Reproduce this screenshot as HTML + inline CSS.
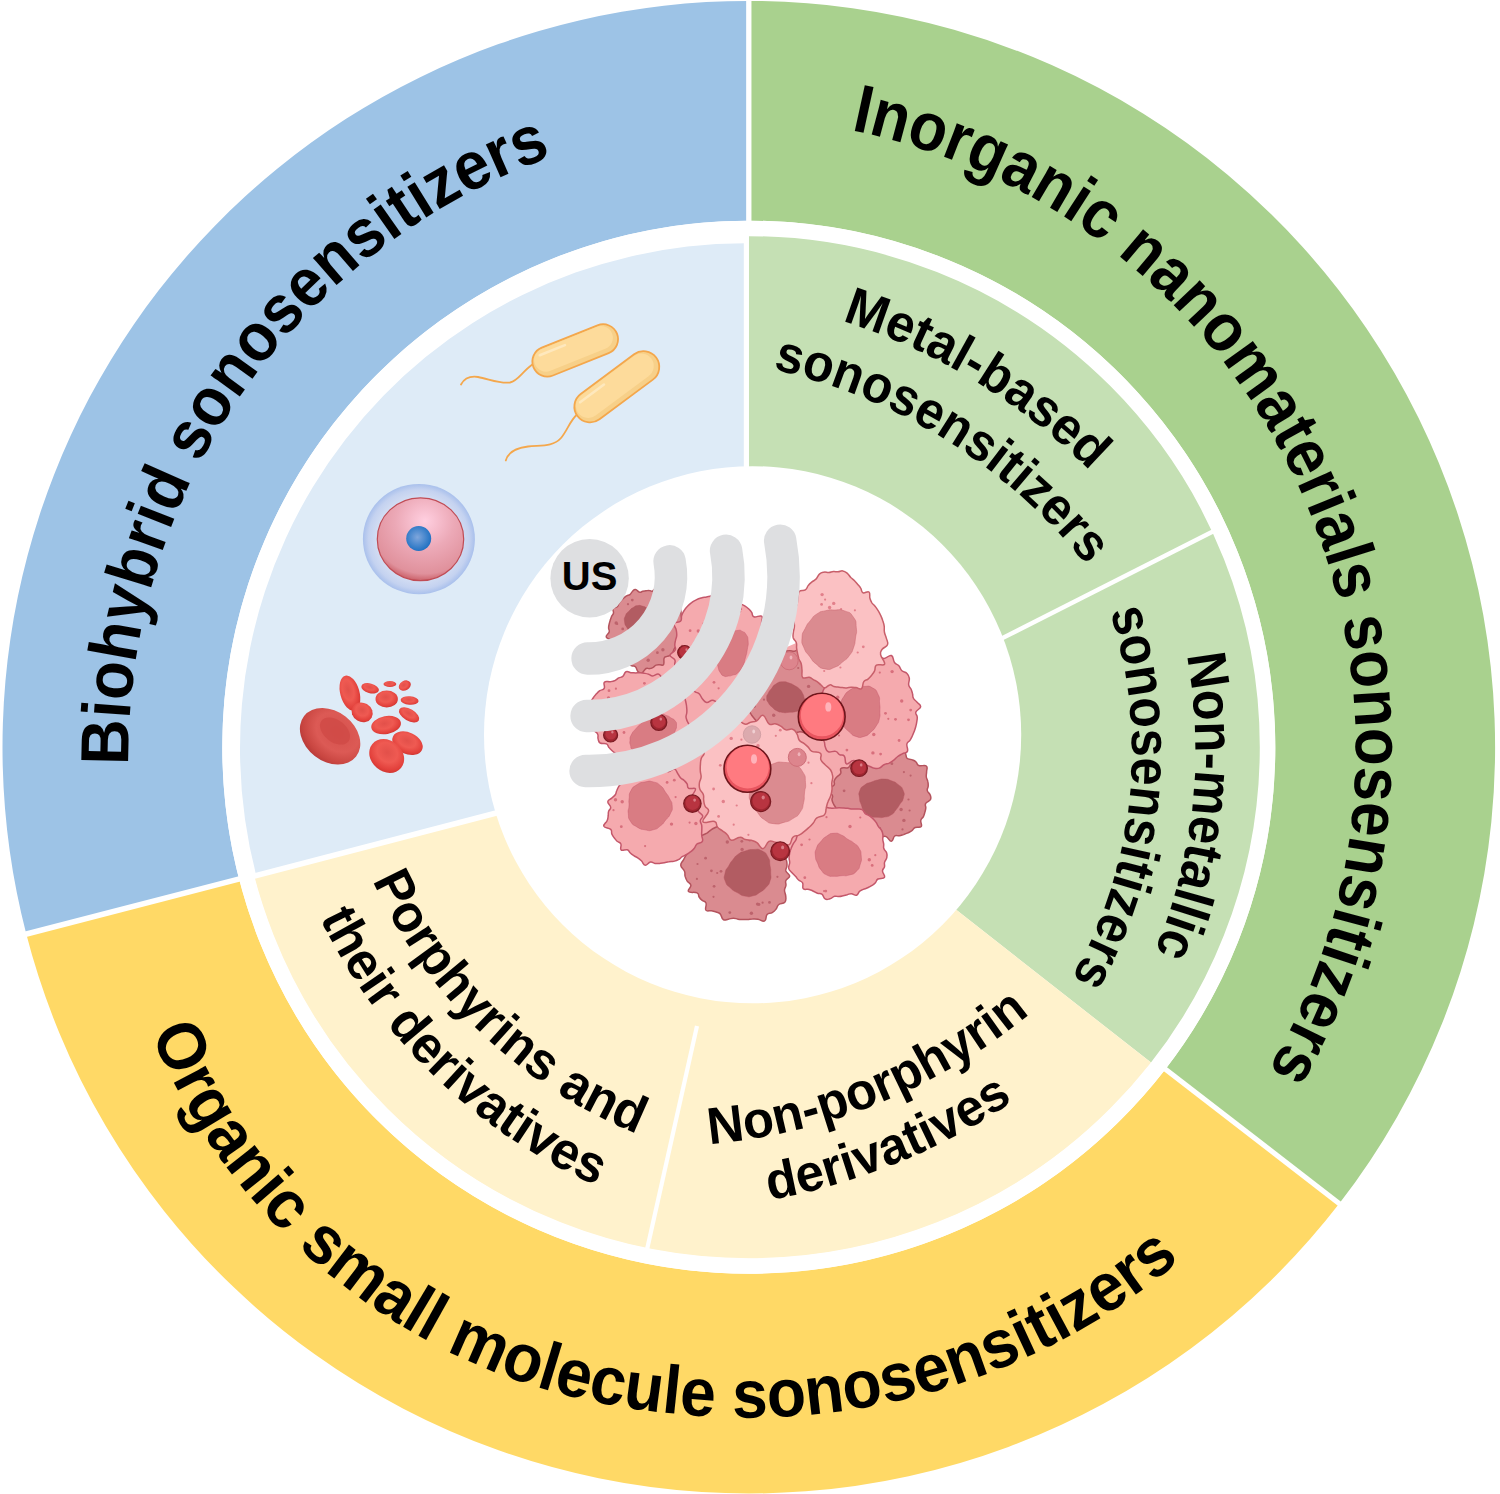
<!DOCTYPE html>
<html><head><meta charset="utf-8"><title>Sonosensitizers</title><style>html,body{margin:0;padding:0;background:#fff}svg{display:block}text{font-family:"Liberation Sans",sans-serif;font-weight:bold}</style></head><body>
<svg width="1500" height="1494" viewBox="0 0 1500 1494">
<rect width="1500" height="1494" fill="#fff"/>
<path d="M26.27 934.06A746.3 746.3 0 0 1 748.8 0.9L748.8 220.7A526.5 526.5 0 0 0 239.07 879.03Z" fill="#9dc3e6"/>
<path d="M748.8 0.9A746.3 746.3 0 0 1 1339.29 1203.58L1165.38 1069.17A526.5 526.5 0 0 0 748.8 220.7Z" fill="#a9d18e"/>
<path d="M1339.29 1203.58A746.3 746.3 0 0 1 26.27 934.06L239.07 879.03A526.5 526.5 0 0 0 1165.38 1069.17Z" fill="#ffd966"/>
<path d="M256.31 875.6A505 505 0 0 1 745 243.3L745 548.3A200 200 0 0 0 551.46 798.71Z" fill="#deebf7"/>
<path d="M748.8 235.2A512 512 0 0 1 1151.71 1063.12L906.19 870.61A200 200 0 0 0 748.8 547.2Z" fill="#c5e0b4"/>
<path d="M1151.32 1062.81A511.5 511.5 0 0 1 253.82 876.13L555.26 797.61A200 200 0 0 0 906.19 870.61Z" fill="#fff2cc"/>
<line x1="748.8" y1="232.2" x2="748.8" y2="-12.8" stroke="#fff" stroke-width="5.3" />
<line x1="1158.65" y1="1063.97" x2="1350.13" y2="1211.96" stroke="#fff" stroke-width="5.2" />
<line x1="247.3" y1="876.9" x2="13.01" y2="937.49" stroke="#fff" stroke-width="5.6" />
<circle cx="748.8" cy="747.2" r="518.75" fill="none" stroke="#fff" stroke-width="15.5"/>
<line x1="746.35" y1="230" x2="746.35" y2="480" stroke="#fff" stroke-width="5.1" />
<line x1="506.87" y1="810.22" x2="246.56" y2="878.02" stroke="#fff" stroke-width="5.6" />
<line x1="996.4" y1="641.1" x2="1220.3" y2="527.7" stroke="#fff" stroke-width="4.4" />
<line x1="697" y1="1026" x2="646" y2="1254" stroke="#fff" stroke-width="4.2" />
<circle cx="752.6" cy="734.75" r="268.6" fill="#fff"/>
<path d="M532 364.8C522 372 518 381 510 382.5C500 384 489 379 478 377C470 375.8 464 379 461 384.5" fill="none" stroke="#f4a74c" stroke-width="1.8" stroke-linecap="round"/><path d="M576.5 415C570 421 567 431 561 438C553 447 540 445 528 446.5C516 448 508 452 505.8 460.5" fill="none" stroke="#f4a74c" stroke-width="1.8" stroke-linecap="round"/><g transform="translate(575.2 350.4) rotate(-21.8)"><rect x="-45.0" y="-15.0" width="90" height="30" rx="15.0" ry="15.0" fill="#f7d089" stroke="#f4a74c" stroke-width="1.8"/><rect x="-42.5" y="-13.8" width="83" height="23.5" rx="12.0" ry="12.0" fill="#fddb9b"/><rect x="-36.0" y="-10.0" width="29.700000000000003" height="2.6" rx="1.3" fill="#fee8bd"/></g><g transform="translate(616.8 386.8) rotate(-36.6)"><rect x="-49.0" y="-15.75" width="98" height="31.5" rx="15.75" ry="15.75" fill="#f7d089" stroke="#f4a74c" stroke-width="1.8"/><rect x="-46.5" y="-14.55" width="91" height="25.0" rx="12.75" ry="12.75" fill="#fddb9b"/><rect x="-40.0" y="-10.75" width="32.34" height="2.6" rx="1.3" fill="#fee8bd"/></g><defs><radialGradient id="gh" cx="50%" cy="50%" r="50%"><stop offset="0.72" stop-color="#d5dff3"/><stop offset="0.9" stop-color="#c4d2f0"/><stop offset="1" stop-color="#a9c0ec"/></radialGradient><radialGradient id="gp" cx="55%" cy="28%" r="75%"><stop offset="0" stop-color="#ffcfe0"/><stop offset="0.45" stop-color="#eca9b7"/><stop offset="0.85" stop-color="#e0919c"/><stop offset="1" stop-color="#c5545c"/></radialGradient><radialGradient id="gn" cx="45%" cy="45%" r="55%"><stop offset="0" stop-color="#7fa6dc"/><stop offset="1" stop-color="#2272c3"/></radialGradient></defs><ellipse cx="418.9" cy="539.1" rx="56" ry="55.2" fill="url(#gh)"/><ellipse cx="420.5" cy="539.2" rx="43.2" ry="41.4" fill="url(#gp)" stroke="#c04c55" stroke-width="1.2"/><circle cx="418.7" cy="538.5" r="12.5" fill="url(#gn)"/><defs><radialGradient id="gr" cx="45%" cy="40%" r="65%"><stop offset="0" stop-color="#e2504a"/><stop offset="0.45" stop-color="#ef5a52"/><stop offset="0.8" stop-color="#e2403b"/><stop offset="1" stop-color="#c9332f"/></radialGradient><radialGradient id="gR" cx="55%" cy="35%" r="70%"><stop offset="0" stop-color="#d4504c"/><stop offset="0.5" stop-color="#dc5a55"/><stop offset="0.8" stop-color="#c94641"/><stop offset="1" stop-color="#b23636"/></radialGradient></defs><ellipse cx="349.9" cy="693.1" rx="9.6" ry="18" transform="rotate(-15 349.9 693.1)" fill="url(#gr)"/><ellipse cx="362.1" cy="712.3" rx="11" ry="9.5" transform="rotate(30 362.1 712.3)" fill="url(#gr)"/><ellipse cx="370.1" cy="688.3" rx="9" ry="4.8" transform="rotate(15 370.1 688.3)" fill="url(#gr)"/><ellipse cx="386.7" cy="698.9" rx="11.2" ry="8.5" transform="rotate(0 386.7 698.9)" fill="url(#gr)"/><ellipse cx="389.9" cy="684" rx="6.4" ry="3" transform="rotate(0 389.9 684)" fill="url(#gr)"/><ellipse cx="404.8" cy="685.6" rx="6.4" ry="4.8" transform="rotate(-30 404.8 685.6)" fill="url(#gr)"/><ellipse cx="409.6" cy="700.5" rx="9" ry="4.3" transform="rotate(5 409.6 700.5)" fill="url(#gr)"/><ellipse cx="409.1" cy="714.9" rx="11.2" ry="5.9" transform="rotate(30 409.1 714.9)" fill="url(#gr)"/><ellipse cx="386.1" cy="725.1" rx="15" ry="9" transform="rotate(-10 386.1 725.1)" fill="url(#gr)"/><ellipse cx="407.5" cy="743.2" rx="16" ry="10.7" transform="rotate(25 407.5 743.2)" fill="url(#gr)"/><ellipse cx="386.7" cy="756" rx="18.7" ry="15.5" transform="rotate(40 386.7 756)" fill="url(#gr)"/><ellipse cx="330.1" cy="736.3" rx="33" ry="25" transform="rotate(38 330.1 736.3)" fill="url(#gR)"/><ellipse cx="335" cy="731" rx="17" ry="11" transform="rotate(38 335 731)" fill="#cf4a46" opacity="0.8"/><g><path d="M646 628L722 640L780 650L838 625L878 712L888 795L842 858L800 850L740 878L700 832L655 820L636 717Z" fill="#f5aaae"/><path d="M680.9 628C680.1 629.9 681.3 630.1 681.2 631.9C681.1 633.6 680.9 633.9 680.6 635.6C680.2 637.4 680.1 637.6 679.5 639.3C679 641 678.9 641.2 678.1 642.8C677.4 644.4 677.3 644.6 676.4 646.1C675.5 647.5 675 647.4 674.2 648.9C673.3 650.4 673.7 651 672.8 652.5C672 653.9 671.8 654.3 670.5 655.2C669.1 656.1 668.5 655.7 667 656.4C665.5 657.1 664.9 656.3 664.1 658.2C663.3 660.1 664.6 663 663.6 664.5C662.5 666 661.4 664.6 659.7 664.7C657.9 664.8 657.7 664.5 656.1 665.1C654.6 665.7 654.6 666.6 653.1 667.4C651.5 668.2 651.2 668.4 649.6 668.6C648 668.9 647.8 667.5 646 668.5C644.2 669.5 643.8 672.2 642 672.9C640.2 673.7 639.7 673.2 638.2 671.8C636.6 670.3 636.9 668.2 635.4 666.8C633.9 665.4 633.4 666.6 631.9 665.8C630.4 665.1 630.2 664.8 628.8 663.7C627.4 662.6 627.3 662.4 626 661.3C624.7 660.1 624.6 659.9 623.3 658.7C622.1 657.5 621.8 657.4 620.8 656.1C619.7 654.7 620.4 653.8 618.7 652.9C617 652 614.5 653.6 613.5 652.1C612.5 650.7 614.8 648.7 614.4 646.8C613.9 644.9 612.5 645.4 611.6 643.8C610.7 642.3 611.7 641.6 610.5 640C609.2 638.3 606.4 638.7 606.2 636.8C605.9 634.9 608.7 634.1 609.2 632C609.8 630 608.6 629.9 608.6 628C608.6 626.1 608.8 625.8 609.2 624C609.6 622.1 609.7 621.9 610.3 620.1C610.8 618.3 610.9 618.1 611.6 616.4C612.4 614.8 613.1 614.9 613.5 613C613.8 611.2 612.3 610 613.2 608.5C614.1 607 616 607.9 617.3 606.7C618.7 605.5 618 604.7 618.9 603.3C619.8 601.8 620.1 601.7 621.2 600.5C622.4 599.2 622.5 599 623.8 597.9C625.1 596.9 625.2 596.6 626.6 595.8C628.1 595 628.6 595.6 629.9 594.6C631.3 593.6 631.1 592.6 632.4 591.5C633.7 590.3 633.8 589.4 635.5 589.6C637.2 589.8 637.9 591.9 639.6 592.2C641.3 592.6 641.2 591.5 642.7 591.2C644.2 590.9 644.5 591 646 590.8C647.5 590.6 647.8 590.4 649.3 590.5C650.9 590.5 650.8 591.7 652.6 591C654.4 590.2 655.3 587.6 657.1 587.2C658.9 586.8 658.9 588.4 660.4 589.3C661.9 590.3 662 590.6 663.7 591.2C665.3 591.9 665.8 591.5 667.5 592.2C669.2 592.9 669.5 593.1 671 594.1C672.5 595.2 672.9 595.3 674.1 596.8C675.3 598.2 674.7 599.1 676.3 600.4C677.8 601.7 679.7 600.6 680.7 602.2C681.7 603.9 680.3 605.3 680.4 607.6C680.4 609.8 680.7 609.9 681 611.9C681.2 613.9 680.9 614.3 681.3 616.1C681.6 618 681.8 618.1 682.6 619.9C683.4 621.7 685 621.9 684.6 623.8C684.2 625.7 681.7 626.1 680.9 628Z" fill="#da8b90" stroke="#b4535d" stroke-width="1.5" stroke-linejoin="round"/><circle cx="657.4" cy="652.7" r="1.4" fill="#bd636c"/><circle cx="648.2" cy="660.3" r="1.7" fill="#bd636c"/><circle cx="622.7" cy="628.9" r="1.4" fill="#bd636c"/><circle cx="617.2" cy="624" r="1.1" fill="#bd636c"/><circle cx="667.4" cy="603.9" r="1.1" fill="#bd636c"/><circle cx="653.6" cy="641.6" r="1.4" fill="#bd636c"/><circle cx="632.3" cy="600.1" r="1.4" fill="#bd636c"/><circle cx="650" cy="646.2" r="1.1" fill="#bd636c"/><circle cx="634.2" cy="646" r="1.7" fill="#bd636c"/><circle cx="629.4" cy="639.1" r="1.7" fill="#bd636c"/><circle cx="616.2" cy="623" r="1.7" fill="#bd636c"/><circle cx="641.1" cy="652.8" r="1.7" fill="#bd636c"/><circle cx="662.9" cy="649.8" r="1.7" fill="#bd636c"/><circle cx="628" cy="604.2" r="1.1" fill="#bd636c"/><circle cx="626.6" cy="640.9" r="1.1" fill="#bd636c"/><circle cx="659.2" cy="619.8" r="1.4" fill="#bd636c"/><path d="M653.6 622C653.6 625.9 654 623.9 653.4 627.9C652.7 631.9 653.7 630.7 651.7 633.9C649.7 637.2 650.6 636.2 647.5 637.7C644.4 639.2 645.6 638.4 642.4 638.4C639.1 638.5 640.7 638.8 637.7 637.9C634.7 636.9 636 637.6 633.5 635.7C631 633.7 632.4 634.6 630.2 632C628.1 629.3 628.9 631.1 627 627.7C625.1 624.4 625.1 626 624.6 622C624.1 618 624 619.3 625.5 615.6C627 611.9 626.6 613.6 629.1 610.9C631.7 608.2 630.3 609.4 633.1 607.6C636 605.8 634.6 606.1 637.6 605.6C640.7 605.1 639.3 605.3 642.3 606.1C645.3 606.9 643.8 606.3 646.7 608C649.5 609.6 648.6 608.3 650.8 611C653 613.7 652.4 612.5 653.3 616.1C654.2 619.8 653.6 618.1 653.6 622Z" fill="#b25c62" stroke="#b4535d" stroke-opacity="0.45" stroke-width="1"/><path d="M833.9 692C833.2 693.8 831.6 693.8 832 695.8C832.4 697.7 835.8 698.5 835.8 700.3C835.7 702.1 833.1 702 831.6 703.5C830.2 705.1 830.3 705.3 829.6 707C828.8 708.7 829.4 709.2 828.5 710.8C827.7 712.4 825.8 711.5 825.8 713.8C825.8 716.2 829.7 719.4 828.6 720.9C827.5 722.5 823.5 719.8 821.2 720.5C818.9 721.2 820.2 722.7 818.7 724C817.3 725.3 816.6 724.9 814.9 726C813.2 727.1 812.9 726.9 811.5 728.7C810.1 730.5 810.8 732.8 808.9 733.7C807 734.5 805.8 732.8 803.4 732.4C801 731.9 800.8 731.6 798.7 731.9C796.6 732.1 796.5 732.8 794.5 733.3C792.4 733.8 792.1 733.7 790 733.9C787.9 734.2 787.6 734.2 785.4 734.2C783.3 734.3 783 734.3 780.8 734.1C778.7 733.9 778.4 733.8 776.2 733.4C774.1 733 774 732.6 771.7 732.3C769.4 732.1 768.1 733.6 766.3 732.5C764.5 731.3 765.5 729.2 764.1 727.4C762.7 725.7 761.9 726.3 760.3 725C758.7 723.8 758.6 723.4 757.2 722C755.8 720.5 755.6 720.2 754.4 718.7C753.1 717.2 752.9 717 751.7 715.3C750.6 713.7 750.8 713.4 749.5 711.8C748.2 710.2 747.9 710.1 746.2 708.5C744.6 707 742.9 707.1 742.3 705.2C741.7 703.3 743.8 702.5 743.7 700.4C743.6 698.3 742.4 698.3 741.8 696.3C741.2 694.4 741.3 694 741.3 692C741.3 690 741.3 689.6 741.6 687.6C742 685.6 742 685.3 742.8 683.4C743.7 681.6 744.4 681.4 745.3 679.6C746.1 677.8 746.3 677.6 746.5 675.6C746.8 673.5 744.7 672.1 746.3 670.7C747.9 669.3 750.8 670.4 753.5 669.7C756.1 669 756.2 669.1 757.6 667.7C759 666.4 758.7 666.1 759.3 664C759.8 661.8 758.3 659.6 760 658.6C761.6 657.6 764.1 659.9 766.4 659.8C768.8 659.6 768.4 659 770.1 658C771.7 657 771.8 656.5 773.4 655.5C775.1 654.5 775.4 654.4 777.3 653.7C779.1 652.9 779.4 652.8 781.3 652.2C783.3 651.6 783.6 651.5 785.6 651.2C787.6 650.8 787.9 650.7 790 650.7C792.1 650.7 792.2 651.6 794.4 651.2C796.6 650.7 797.1 649.2 799.4 648.9C801.7 648.5 802.1 648.7 804.1 649.7C806 650.6 805.8 651.9 807.8 652.8C809.7 653.7 810.4 653 812.5 653.5C814.7 654 815.1 654.1 817 655C819 656 818.7 656.7 821 657.5C823.3 658.3 824.5 657.5 826.8 658.4C829.1 659.3 829.9 659.4 830.9 661.3C832 663.3 830.6 664.6 831.4 666.8C832.1 668.9 833.1 668.6 834.1 670.5C835 672.4 834.9 672.8 835.4 674.8C835.8 676.9 835.8 677.2 835.8 679.3C835.9 681.4 835.8 681.7 835.6 683.7C835.4 685.7 835.4 686 835 688C834.6 689.9 834.6 690.2 833.9 692Z" fill="#da8b90" stroke="#b4535d" stroke-width="1.5" stroke-linejoin="round"/><circle cx="774.7" cy="661.2" r="1.7" fill="#bd636c"/><circle cx="773.7" cy="715.3" r="1.7" fill="#bd636c"/><circle cx="806.4" cy="699.8" r="1.7" fill="#bd636c"/><circle cx="755.3" cy="702" r="1.1" fill="#bd636c"/><circle cx="798.2" cy="668" r="1.1" fill="#bd636c"/><circle cx="767.5" cy="679.8" r="1.4" fill="#bd636c"/><circle cx="754.2" cy="706.2" r="1.7" fill="#bd636c"/><circle cx="820.4" cy="673.8" r="1.7" fill="#bd636c"/><circle cx="808.6" cy="686.4" r="1.7" fill="#bd636c"/><circle cx="808.3" cy="712.6" r="1.7" fill="#bd636c"/><circle cx="764" cy="699.7" r="1.1" fill="#bd636c"/><circle cx="755" cy="687.6" r="1.4" fill="#bd636c"/><circle cx="765.1" cy="718.9" r="1.1" fill="#bd636c"/><path d="M804.2 698C805.1 701.4 805.7 699.9 805.1 703.5C804.4 707.1 805.3 706.1 802.3 708.8C799.2 711.5 800.3 710.4 795.9 711.5C791.5 712.7 793.6 712 789.2 712.3C784.8 712.6 786.9 713 782.8 712.5C778.6 711.9 780.3 712.4 776.7 710.7C773.2 708.9 774.9 709.7 772.2 707.2C769.4 704.6 770.3 706.1 768.5 703C766.7 700 766.8 701.4 766.7 698C766.7 694.6 766.8 696.1 768.4 692.9C770 689.7 769.1 691.4 771.6 688.4C774 685.5 772.2 686.3 775.8 684.1C779.4 681.9 777.9 682.1 782.4 681.8C786.9 681.5 785.2 681.8 789.3 683.1C793.5 684.5 791.5 683.9 794.9 685.8C798.3 687.8 797 686.6 799.5 689C802.1 691.5 801 690.3 802.5 693.3C804.1 696.2 803.4 694.6 804.2 698Z" fill="#b25c62" stroke="#b4535d" stroke-opacity="0.45" stroke-width="1"/><path d="M930.2 795C930.9 797.1 931.4 797.7 930.4 799.7C929.3 801.6 926.7 801.6 925.7 803.5C924.6 805.4 926 805.9 925.8 808C925.6 810.1 925.4 810.3 924.8 812.4C924.3 814.4 924.3 814.8 923.4 816.6C922.4 818.5 921.3 818.1 920.8 820.4C920.3 822.7 922.5 824.8 921.2 826.5C919.9 828.1 917.4 826.5 915.2 827.5C913.1 828.5 913.6 829.4 911.9 830.7C910.2 831.9 909.8 832 907.9 832.9C905.9 833.8 905.6 833.9 903.6 834.6C901.6 835.2 901.3 835.4 899.3 835.8C897.2 836.1 896.5 834.7 894.7 836C892.9 837.3 893.4 841.2 891.4 841.3C889.4 841.5 888.4 837.6 886.2 836.6C884 835.7 884 836.5 882 837.2C880 837.9 879.7 838.7 877.5 839.7C875.3 840.6 874.5 842.3 872.6 841.3C870.7 840.3 871.2 836.9 869.5 835.4C867.7 833.9 867.1 835.4 865.1 834.9C863.2 834.4 862.9 834.2 861 833.3C859.2 832.5 859 832.2 857.4 831.1C855.7 829.9 855.5 829.7 854 828.4C852.4 827.2 852.2 827 850.7 825.6C849.3 824.2 849 824 847.6 822.6C846.3 821.1 846.6 820.6 844.8 819.3C843 818 841.8 818.4 840 817C838.1 815.6 837.9 815.2 837.1 813.2C836.2 811.3 837 810.6 836.2 808.6C835.5 806.5 834.7 806.4 833.7 804.4C832.7 802.4 832.4 802 832 799.8C831.7 797.6 833.5 797.4 832.2 795C830.9 792.6 826.2 791.8 826.5 789.7C826.9 787.5 831.9 787.7 833.7 785.6C835.5 783.5 833.5 782.9 834.3 780.8C835.1 778.8 835.5 778.5 837 776.8C838.5 775 839.7 775.4 840.7 773.4C841.6 771.4 839.4 769.6 841.1 768.3C842.8 766.9 845.7 768.6 848 767.7C850.2 766.8 849.3 765.8 850.7 764.4C852.2 763.1 852.6 763.1 854.3 762C856 760.9 856.2 760.7 857.9 759.7C859.6 758.6 859.8 758.5 861.5 757.6C863.3 756.6 863.5 756.4 865.4 755.7C867.2 755.1 867.7 756 869.5 754.8C871.3 753.5 871.1 751.1 873 750.5C874.9 749.9 875.6 751.7 877.7 752.2C879.8 752.7 880 752.4 882 752.5C884 752.6 884.3 752.5 886.3 752.6C888.2 752.8 888.6 752.7 890.5 753.2C892.4 753.6 892.4 754.6 894.5 754.6C896.7 754.6 897.3 753.6 899.7 753.2C902.1 752.8 903.3 751.8 905 753C906.7 754.2 905.5 756.8 907 758.3C908.6 759.9 909.6 758.8 911.7 759.6C913.8 760.4 914.3 760.4 915.9 761.8C917.6 763.2 916.3 764.5 918.8 765.5C921.2 766.5 924.5 764.6 926.3 766C928.1 767.5 926.6 769.1 926.6 771.7C926.6 774.2 926 774.8 926.3 777C926.6 779.3 927.4 779.3 927.8 781.4C928.3 783.5 928.3 783.9 928.2 786C928.1 788.2 926.8 788.5 927.3 790.6C927.7 792.7 929.5 792.9 930.2 795Z" fill="#da8b90" stroke="#b4535d" stroke-width="1.5" stroke-linejoin="round"/><circle cx="910.6" cy="775.6" r="1.1" fill="#bd636c"/><circle cx="880" cy="828.2" r="1.1" fill="#bd636c"/><circle cx="903.9" cy="772.1" r="1.1" fill="#bd636c"/><circle cx="908.5" cy="799.5" r="1.1" fill="#bd636c"/><circle cx="901.1" cy="809.5" r="1.7" fill="#bd636c"/><circle cx="865.9" cy="831.2" r="1.4" fill="#bd636c"/><circle cx="844.1" cy="790.8" r="1.4" fill="#bd636c"/><circle cx="909.6" cy="810.5" r="1.1" fill="#bd636c"/><circle cx="881.2" cy="831.4" r="1.4" fill="#bd636c"/><circle cx="871.3" cy="758" r="1.1" fill="#bd636c"/><circle cx="891.9" cy="763.7" r="1.4" fill="#bd636c"/><circle cx="903.9" cy="820.4" r="1.7" fill="#bd636c"/><circle cx="874.8" cy="756.1" r="1.7" fill="#bd636c"/><circle cx="876.4" cy="832.5" r="1.1" fill="#bd636c"/><circle cx="902.5" cy="829.4" r="1.1" fill="#bd636c"/><circle cx="866.6" cy="756.6" r="1.7" fill="#bd636c"/><path d="M903.4 798C902.2 802.7 902.2 800.5 899.7 804.5C897.2 808.5 898.7 806.5 895.9 809.9C893 813.3 895 812.4 891.2 814.8C887.4 817.2 889.1 816.3 884.5 817.1C880 818 882.2 817.7 877.4 817.3C872.6 816.9 874.5 817.9 870.2 815.9C865.8 813.9 867.3 815 864.3 811.3C861.4 807.6 862.9 809.3 861.3 804.8C859.7 800.4 859.9 802.7 859.5 798C859 793.3 858.1 795 859.8 790.7C861.6 786.3 860.9 787.8 864.7 785C868.5 782.1 867 783.8 871.4 782.1C875.7 780.4 873.3 781 877.7 780C882 779 879.9 778.8 884.5 779.1C889.1 779.4 886.9 779.1 891.4 780.8C895.9 782.6 894.1 781.3 898 784.4C901.9 787.6 901.3 785.8 903.1 790.3C904.9 794.9 904.5 793.3 903.4 798Z" fill="#b25c62" stroke="#b4535d" stroke-opacity="0.45" stroke-width="1"/><path d="M785.9 871C786.6 873.3 789.7 873.9 789.7 876.1C789.7 878.3 786.8 878.3 785.9 880.5C785 882.7 786.3 883.3 785.9 885.5C785.6 887.8 784.5 887.7 784.5 890.3C784.5 892.8 785.7 893.7 785.8 896.6C785.9 899.4 786.4 900.4 784.8 902.3C783.2 904.1 780.8 902.9 778.8 904.5C776.7 906.1 777.6 907.2 776.1 909.1C774.5 911 774.3 911.3 772.2 912.6C770.1 913.9 768.8 912.6 767.1 914.5C765.3 916.5 766.8 919.9 764.7 920.9C762.6 922 760.8 919.7 758 919.2C755.1 918.8 755 918.9 752.6 919C750.1 919 749.9 919.4 747.6 919.5C745.4 919.6 745 919.5 742.8 919.5C740.5 919.4 740.2 919.5 738 919.2C735.8 918.9 735.6 918.2 733.4 918.2C731.1 918.2 730.8 918.9 728.4 919.2C726.1 919.5 725.2 920.8 723.3 919.6C721.3 918.4 721.9 915.7 720.2 913.9C718.5 912.2 718.1 912.8 716.1 912C714 911.3 713.8 911.2 711.5 910.7C709.1 910.3 707.2 911.9 705.9 910.1C704.7 908.3 706.9 905.2 706 903C705.1 900.7 703.8 901.8 702.2 900.4C700.5 899 700.3 898.8 699.1 897C697.9 895.2 699.6 894.1 697.1 892.9C694.6 891.6 690 893.3 688.5 891.5C687.1 889.7 691.2 887.7 690.9 885.3C690.6 882.9 688.6 883.2 687.2 881.1C685.9 879 685.8 878.6 685.1 876.2C684.5 873.9 685.5 873.5 684.4 871C683.4 868.5 681 867.9 680.8 865.4C680.5 862.8 682.1 862.5 683.3 860.1C684.6 857.8 684.8 857.5 686 855.2C687.1 852.9 686.9 852.5 688.2 850.4C689.6 848.3 690.1 848.2 691.7 846.2C693.2 844.3 693.8 844.4 694.8 842.1C695.8 839.9 694.2 838.1 696 836.5C697.7 834.9 699.6 835.9 702.2 835.2C704.7 834.4 704.9 834.3 706.9 833.2C708.9 832 708.8 831.4 710.7 830.1C712.5 828.8 712.8 828.6 714.8 827.7C716.9 826.7 717.3 826.9 719.3 825.9C721.4 825 721.7 825.4 723.6 823.6C725.5 821.9 725.3 819 727.5 818.4C729.7 817.7 730.6 819.8 733.1 820.9C735.5 822 735.7 822.5 738 823C740.3 823.5 740.5 822.7 742.7 823C744.9 823.2 745.2 823.5 747.3 824.1C749.5 824.6 749.8 824.6 751.8 825.4C753.9 826.2 753.9 826.7 756.1 827.3C758.2 827.9 758.6 827.6 761 827.9C763.4 828.2 764.5 827.3 766.3 828.6C768.1 830 767.1 831.9 768.7 833.6C770.3 835.3 771.3 834.5 773.2 835.8C775.1 837.1 775.5 837.3 777 839C778.4 840.8 777.7 841.6 779.6 843.2C781.5 844.8 783.2 844.2 785 845.9C786.8 847.6 787.2 848.1 787.3 850.6C787.3 853.1 785.4 854.2 785.2 856.7C785.1 859.2 786.3 859.1 786.7 861.3C787.1 863.5 787.1 863.9 786.9 866.2C786.7 868.4 785.3 868.7 785.9 871Z" fill="#da8b90" stroke="#b4535d" stroke-width="1.5" stroke-linejoin="round"/><circle cx="757.6" cy="904.1" r="1.7" fill="#bd636c"/><circle cx="729.8" cy="912.6" r="1.4" fill="#bd636c"/><circle cx="749.8" cy="839.8" r="1.7" fill="#bd636c"/><circle cx="697.5" cy="864" r="1.1" fill="#bd636c"/><circle cx="713.5" cy="896.8" r="1.1" fill="#bd636c"/><circle cx="762.6" cy="902.7" r="1.1" fill="#bd636c"/><circle cx="727.3" cy="842" r="1.7" fill="#bd636c"/><circle cx="741.8" cy="841.3" r="1.4" fill="#bd636c"/><circle cx="721" cy="871.3" r="1.4" fill="#bd636c"/><circle cx="777.4" cy="876.8" r="1.1" fill="#bd636c"/><circle cx="769.5" cy="902.4" r="1.4" fill="#bd636c"/><circle cx="759" cy="904.5" r="1.4" fill="#bd636c"/><circle cx="717.2" cy="873" r="1.1" fill="#bd636c"/><circle cx="696.9" cy="878.9" r="1.1" fill="#bd636c"/><circle cx="742.1" cy="849.4" r="1.7" fill="#bd636c"/><circle cx="739.1" cy="830.6" r="1.7" fill="#bd636c"/><circle cx="705.6" cy="858.2" r="1.4" fill="#bd636c"/><circle cx="751.4" cy="913.2" r="1.7" fill="#bd636c"/><circle cx="714.1" cy="886.3" r="1.4" fill="#bd636c"/><circle cx="711.4" cy="870.8" r="1.4" fill="#bd636c"/><path d="M770.7 873C770.8 878.1 771.7 875.9 770.1 880.7C768.6 885.5 769.4 883.5 766.1 887.3C762.7 891.2 764.4 889.4 760.1 892.2C755.7 895 758.1 894.5 753 895.8C748 897.1 750.1 897.1 744.9 896.1C739.8 895.1 742.3 895.4 737.6 892.8C732.9 890.2 734.8 892 730.8 888.3C726.7 884.5 727.3 886.7 725.4 881.6C723.5 876.5 724 878.3 725.1 873C726.3 867.7 726.2 870.2 728.8 865.7C731.5 861.2 729.8 863.3 733 859.5C736.1 855.7 734.1 857.1 738.2 854.2C742.2 851.4 740.1 852.7 745.1 851.1C750.1 849.5 747.6 849.6 753.1 849.5C758.7 849.4 756.9 848.3 761.8 850.8C766.8 853.3 765.3 852.2 768 857C770.8 861.9 769.1 860 770 865.4C770.9 870.7 770.7 867.9 770.7 873Z" fill="#b25c62" stroke="#b4535d" stroke-opacity="0.45" stroke-width="1"/><path d="M686 717C686.2 719.1 686.6 719.3 687.4 721.6C688.2 723.8 690.1 724.6 689.6 726.6C689 728.7 686.7 728.6 685.1 730.4C683.5 732.2 682.5 731.8 682.7 734.3C683 736.8 686.3 738.8 686.2 741.2C686 743.5 683.9 743 682 744.5C680.1 746 679.6 745.9 678.1 747.6C676.5 749.3 676.9 750 675.4 751.6C673.8 753.2 673.6 753.6 671.5 754.6C669.5 755.6 668 753.8 666.6 755.9C665.2 758 667.5 762.9 665.4 763.6C663.4 764.3 660.5 759.5 657.7 758.8C654.9 758.1 655.6 760.1 653.5 760.6C651.5 761.1 651.1 760.9 648.9 760.9C646.8 761 646.5 761.2 644.4 761C642.3 760.8 642.1 759.9 640 760.2C637.9 760.4 637.7 761.1 635.5 762C633.2 762.9 632.4 764.9 630.4 764.2C628.4 763.5 628.7 760.6 627 758.9C625.3 757.2 624.9 757.8 623.1 757C621.2 756.2 620.8 756.4 619 755.5C617.2 754.6 617 754.3 615.3 753.2C613.7 752 613.4 751.8 611.9 750.5C610.4 749.2 610.2 749 608.9 747.4C607.6 745.9 608.5 745 606.5 743.9C604.5 742.9 602.2 744.2 600.2 743C598.3 741.8 598.7 741 598.1 738.9C597.5 736.8 598.6 736.1 597.7 734.2C596.8 732.2 595.6 732.4 594.3 730.6C592.9 728.8 592.8 728.4 591.8 726.4C590.7 724.4 590.3 724 589.8 721.8C589.3 719.6 590.8 719.4 589.5 717C588.2 714.6 584.2 713.9 584.3 711.6C584.4 709.4 588.4 709.4 589.9 707.3C591.4 705.1 589.9 704.5 590.7 702.4C591.4 700.2 591.8 699.9 593.1 698C594.3 696 594.6 695.8 596.2 694.1C597.8 692.4 598 692.1 599.8 690.7C601.7 689.4 603.2 690.3 604.2 688.3C605.3 686.3 603 683.7 604.4 682.2C605.9 680.6 607.9 682.1 610.4 681.7C612.9 681.3 613.1 681.3 615 680.5C617 679.6 616.9 678.9 618.7 677.9C620.5 677 621.1 677.8 622.8 676.4C624.5 675 624.1 672.7 626 671.8C627.9 670.9 628.8 672.4 631 672.7C633.2 672.9 633.5 672.8 635.6 672.9C637.7 672.9 637.9 672.7 640 672.8C642.1 672.9 642.4 672.9 644.4 673.3C646.4 673.6 646.7 673.6 648.7 674.3C650.6 674.9 650.5 676 652.7 675.9C655 675.8 656.1 673.7 658.2 674C660.3 674.3 660 675.9 661.6 677.4C663.2 678.9 663 679.5 665 680.3C667 681.2 667.8 680.5 670.2 681C672.6 681.5 673.8 680.9 675.3 682.4C676.8 684 675.4 685.7 676.6 687.6C677.8 689.5 678.8 689 680.3 690.6C681.8 692.2 681.9 692.6 683 694.5C684.1 696.4 684.2 696.7 684.9 698.8C685.6 700.8 685.7 701.2 686.1 703.3C686.6 705.4 686.6 705.8 686.7 707.9C686.9 710 687 710.4 686.8 712.5C686.7 714.6 685.9 714.9 686 717Z" fill="#f5aaae" stroke="#c4576a" stroke-width="1.5" stroke-linejoin="round"/><circle cx="624.5" cy="706.2" r="1.1" fill="#d86f7c"/><circle cx="615.9" cy="688.7" r="1.1" fill="#d86f7c"/><circle cx="649" cy="703.2" r="1.1" fill="#d86f7c"/><circle cx="668.4" cy="695.6" r="1.1" fill="#d86f7c"/><circle cx="604.1" cy="712.6" r="1.4" fill="#d86f7c"/><circle cx="609" cy="690.7" r="1.4" fill="#d86f7c"/><circle cx="644.4" cy="683.3" r="1.4" fill="#d86f7c"/><circle cx="670.9" cy="698" r="1.7" fill="#d86f7c"/><circle cx="624.1" cy="726.1" r="1.4" fill="#d86f7c"/><circle cx="655.3" cy="691.2" r="1.1" fill="#d86f7c"/><circle cx="624" cy="732.5" r="1.4" fill="#d86f7c"/><circle cx="664.9" cy="692.8" r="1.1" fill="#d86f7c"/><circle cx="608.5" cy="697.9" r="1.7" fill="#d86f7c"/><path d="M675.1 720.9C676.9 723.3 676.5 722 676.5 725.4C676.5 728.8 676.7 727 675.1 731C673.5 735 675.1 733.2 671.6 737.4C668.1 741.6 669.9 740.3 664.6 743.6C659.2 747 661.3 745.4 655.5 747.5C649.7 749.5 652.7 748.5 647.1 749.8C641.5 751.1 643.6 751.3 638.8 751.3C634 751.3 635.4 751.7 632.7 749.7C629.9 747.7 631.4 748.4 630.5 745.3C629.6 742.2 629.7 743.9 630 740.5C630.2 737 629.3 738.8 631.2 735C633.2 731.1 632.1 732.9 635.7 728.9C639.3 724.9 637.2 726.9 642 722.9C646.9 719 644.4 720 650.2 717.1C656.1 714.2 654.2 714.7 659.6 714.2C665.1 713.6 662.7 714.2 666.6 715.5C670.4 716.8 668.3 716.3 671.2 718.1C674 719.9 673.4 718.5 675.1 720.9Z" fill="#d97c83" stroke="#c4576a" stroke-opacity="0.45" stroke-width="1"/><path d="M774.7 650C776.6 652.5 778.9 653.3 778.4 655.8C778 658.2 774.1 658.1 772.9 660.5C771.6 662.9 773.4 663.6 773.1 666.1C772.9 668.7 772.7 669.1 771.8 671.4C770.8 673.8 770.6 674.2 769.2 676.2C767.8 678.3 767.1 678.3 765.7 680.4C764.3 682.5 764.7 683.2 763.2 685.2C761.7 687.1 761.4 687.5 759.3 688.7C757.1 690 756.2 689.6 753.9 690.4C751.6 691.3 750.5 689.9 749.2 692.4C748 694.9 750.4 700.3 748.4 701.3C746.4 702.3 743.4 697.1 740.7 696.9C737.9 696.6 738.7 699.1 736.6 700.2C734.6 701.3 734.1 701.1 731.9 701.7C729.6 702.3 729.3 702.4 727 702.6C724.7 702.9 724.3 702.9 722 702.8C719.7 702.7 719.3 702.9 717 702.3C714.8 701.7 714.8 700.2 712.4 700.2C710 700.2 709 702.7 706.7 702.4C704.4 702.1 704.2 700.9 702.5 698.9C700.8 697 701.1 695.7 699.4 694C697.7 692.3 697 693 695.2 691.8C693.3 690.6 693.1 690.3 691.3 688.9C689.6 687.5 689.3 687.3 687.6 685.7C686 684.2 685.6 684.1 684.2 682.3C682.8 680.5 683.9 679.4 681.6 678.1C679.3 676.7 675.4 678.5 674.3 676.5C673.3 674.5 677 672 677.1 669.3C677.2 666.6 675.3 667.1 674.8 664.9C674.3 662.7 675.9 662 674.8 659.8C673.7 657.5 669.9 657.6 670 655.3C670 653.1 674.1 652.4 675.2 650C676.3 647.6 674.7 647.4 674.8 645.2C674.8 642.9 675 642.6 675.5 640.4C675.9 638.2 676.5 638 676.7 635.7C676.9 633.4 676.9 633.2 676.3 630.3C675.8 627.5 673.2 625.6 674.2 623.4C675.2 621.3 678.8 623 680.5 621.2C682.3 619.4 680.8 618.1 681.7 615.6C682.5 613.1 682.8 612.8 684.1 610.6C685.5 608.4 685.7 608.1 687.5 606.3C689.2 604.4 689.5 604.1 691.6 602.6C693.6 601.1 694 601 696.2 599.9C698.5 598.8 698.9 598.7 701.3 598C703.7 597.3 704.1 597.4 706.5 596.9C708.9 596.4 709.3 596.7 711.6 595.8C714 595 714.2 592.8 716.6 593.3C719 593.8 719.6 596.7 722 598C724.4 599.2 724.6 598.6 726.9 598.7C729.2 598.7 729.6 598 731.9 598.2C734.2 598.4 734.7 598.3 736.7 599.6C738.7 600.8 738.6 602.2 740.5 603.6C742.3 605.1 742.8 604.6 744.7 605.8C746.6 607 746.9 607.2 748.5 608.7C750.1 610.3 750.4 610.5 751.7 612.4C752.9 614.3 751.6 616 753.9 616.8C756.2 617.7 759.8 614.9 761.6 616.2C763.4 617.5 761.6 619.8 761.6 622.5C761.6 625.3 760.9 625.8 761.6 628C762.3 630.1 763.4 629.8 764.6 631.7C765.8 633.5 765.8 633.8 766.9 635.8C767.9 637.8 768.3 638.1 769.1 640.3C770 642.4 769.1 642.8 770.4 645C771.7 647.3 772.9 647.5 774.7 650Z" fill="#f5aaae" stroke="#c4576a" stroke-width="1.5" stroke-linejoin="round"/><circle cx="695.5" cy="641.8" r="1.7" fill="#d86f7c"/><circle cx="714" cy="682.3" r="1.4" fill="#d86f7c"/><circle cx="763.7" cy="658.6" r="1.7" fill="#d86f7c"/><circle cx="698.3" cy="631" r="1.7" fill="#d86f7c"/><circle cx="736.3" cy="693.3" r="1.1" fill="#d86f7c"/><circle cx="694.6" cy="662.1" r="1.7" fill="#d86f7c"/><circle cx="702.2" cy="641.8" r="1.7" fill="#d86f7c"/><circle cx="699.9" cy="661.8" r="1.1" fill="#d86f7c"/><circle cx="740.8" cy="608.9" r="1.4" fill="#d86f7c"/><circle cx="682.1" cy="646.1" r="1.4" fill="#d86f7c"/><circle cx="690.1" cy="630.7" r="1.4" fill="#d86f7c"/><circle cx="740.2" cy="611.6" r="1.1" fill="#d86f7c"/><circle cx="716.7" cy="606.8" r="1.1" fill="#d86f7c"/><circle cx="718.6" cy="688.3" r="1.1" fill="#d86f7c"/><circle cx="703.3" cy="643.7" r="1.7" fill="#d86f7c"/><circle cx="704.1" cy="623.6" r="1.7" fill="#d86f7c"/><circle cx="707.5" cy="627.5" r="1.7" fill="#d86f7c"/><circle cx="758.4" cy="643.7" r="1.7" fill="#d86f7c"/><path d="M745.4 657.8C743.8 663.5 745.1 661.4 742.6 666.3C740.1 671.3 741.1 669.8 737.9 672.7C734.6 675.7 736 674 732.8 675.1C729.6 676.2 731.3 675.8 728.3 676.1C725.4 676.4 726.5 677.2 723.9 676C721.3 674.9 722.4 675.7 720.4 672.7C718.5 669.7 719.2 671.5 718.1 666.9C717 662.4 716.7 664.8 717.2 659.1C717.7 653.4 717.2 655.3 719.5 649.8C721.9 644.4 721.2 646.8 724.2 642.7C727.3 638.6 725.7 640.8 728.7 637.4C731.7 634.1 730.1 634.9 733.2 632.5C736.3 630.2 735 630.7 738 630.4C741 630 739.6 630 742.3 631.4C745 632.8 744.2 631.4 746.1 634.5C748 637.7 747.7 635.9 748.1 640.9C748.5 645.9 748.2 643.8 747.3 649.4C746.4 655.1 747 652.2 745.4 657.8Z" fill="#d97c83" stroke="#c4576a" stroke-opacity="0.45" stroke-width="1"/><path d="M702.7 816C703.1 818 700.5 818.3 700.3 820.5C700.1 822.6 701.3 823 701.7 825.3C702 827.6 701.8 827.8 701.8 830.2C701.8 832.5 701.5 832.7 701.7 835.3C701.8 837.9 703.5 839.3 702.4 841.3C701.3 843.4 698.8 842.4 696.9 844C695.1 845.7 695.8 846.5 694.3 848.3C692.9 850.1 692.5 850.2 690.7 851.7C688.9 853.1 688.6 853.3 686.6 854.5C684.6 855.7 684.1 855.5 682.2 856.7C680.3 857.9 680.4 858.7 678.4 859.7C676.4 860.8 676 860.8 673.8 861.3C671.5 861.7 671.1 861.3 668.9 861.7C666.6 862 666.4 862.4 664.3 862.8C662.2 863.2 661.8 863.2 659.7 863.4C657.5 863.5 657.1 863.7 655 863.4C652.9 863.1 652.7 861.7 650.5 862.1C648.2 862.5 647.3 865.4 645.2 865.2C643.1 864.9 643.2 862.6 641.4 860.8C639.6 859.1 639.5 859 637.7 857.8C635.9 856.6 635.5 856.8 633.8 855.6C632.1 854.5 631.8 854.4 630.3 853C628.7 851.7 629.4 850.5 627.3 849.8C625.1 849.1 622.5 851.3 621.1 849.9C619.6 848.6 621.8 846 620.9 844C620 842 618.7 842.7 617.1 841.3C615.6 839.9 615.4 839.5 614.2 837.8C612.9 836.1 612.6 835.8 611.8 833.9C611 831.9 612.5 831.2 610.7 829.4C608.8 827.6 604.8 828.2 603.9 826.2C603.1 824.1 606.1 823.1 607.1 820.7C608.1 818.3 607.8 818.2 608.2 816C608.5 813.8 608 813.5 608.6 811.4C609.2 809.4 610.9 809.5 610.7 807.2C610.5 804.9 607.6 803.8 607.8 801.7C608 799.5 609.9 799.7 611.7 798.1C613.4 796.4 614.1 796.5 615.3 794.8C616.4 793 615.9 792.4 616.8 790.5C617.6 788.5 617.7 788.2 618.8 786.3C620 784.5 620.6 784.7 621.6 782.6C622.6 780.5 622.1 779.5 623.1 777.2C624.2 774.9 624 773.8 626 772.7C628 771.5 629.4 773.2 631.7 772.4C634 771.7 633.7 770.5 635.7 769.5C637.8 768.4 638.2 768.3 640.4 767.9C642.7 767.5 643.2 768.6 645.4 767.6C647.6 766.6 647.6 763.5 649.8 763.6C652.1 763.7 652.7 767 655 768.1C657.3 769.1 657.5 767.8 659.7 768.1C661.9 768.4 662.3 768.4 664.3 769.3C666.3 770.1 666.1 771.8 668.4 771.7C670.8 771.7 672.3 768.6 674.4 769C676.6 769.5 676.3 771.4 677.7 773.5C679.2 775.5 679 776.2 680.5 777.8C682 779.5 682.6 779 684.2 780.5C685.7 781.9 686 782.1 687.1 783.9C688.1 785.8 686.7 787.2 688.7 788.3C690.7 789.5 694.7 787.1 695.5 788.9C696.3 790.8 692.4 793.7 692.1 796.2C691.8 798.7 693.5 798 694.3 799.7C695.1 801.5 695 801.8 695.6 803.7C696.2 805.5 696.2 805.8 696.9 807.7C697.6 809.5 697.2 809.8 698.6 811.7C699.9 813.7 702.3 814 702.7 816Z" fill="#f5aaae" stroke="#c4576a" stroke-width="1.5" stroke-linejoin="round"/><circle cx="689.6" cy="822.6" r="1.1" fill="#d86f7c"/><circle cx="613.5" cy="810.2" r="1.1" fill="#d86f7c"/><circle cx="671.5" cy="824.1" r="1.7" fill="#d86f7c"/><circle cx="675.6" cy="797.1" r="1.1" fill="#d86f7c"/><circle cx="667.1" cy="782.4" r="1.4" fill="#d86f7c"/><circle cx="622.2" cy="801.7" r="1.7" fill="#d86f7c"/><circle cx="615.5" cy="799.8" r="1.7" fill="#d86f7c"/><circle cx="674.3" cy="780.2" r="1.4" fill="#d86f7c"/><circle cx="695.9" cy="823.5" r="1.7" fill="#d86f7c"/><circle cx="645.1" cy="846.1" r="1.1" fill="#d86f7c"/><circle cx="621.3" cy="826.7" r="1.4" fill="#d86f7c"/><path d="M672.2 806C672.5 811.1 672.5 809.1 670.3 813.8C668.2 818.4 669 816 665.7 820C662.4 824.1 664.6 822.6 660.5 825.8C656.3 829.1 658.4 828.5 653.2 829.8C648 831.2 650.2 830.8 644.8 829.8C639.4 828.8 641.7 829.7 636.9 826.9C632.2 824.1 633.5 825.9 630.6 821.5C627.7 817 628.8 818.7 628.3 813.5C627.7 808.4 628.7 810.9 629 806C629.2 801.1 628.5 803.8 629.1 798.8C629.8 793.7 628.3 795.4 630.9 790.8C633.4 786.2 632.2 787.8 636.8 784.8C641.4 781.9 639.3 783 644.8 782C650.3 781 648 780.6 653.2 781.9C658.5 783.2 656.6 782.4 660.6 785.8C664.7 789.3 662.5 787.9 665.5 792.2C668.5 796.4 667.3 793.9 669.6 798.5C671.8 803.1 671.9 800.9 672.2 806Z" fill="#d97c83" stroke="#c4576a" stroke-opacity="0.45" stroke-width="1"/><path d="M915.9 712C915.1 714.3 917 714.6 917.2 716.8C917.4 719.1 917.1 719.5 916.8 721.7C916.5 724 916.4 724.3 915.8 726.5C915.2 728.7 915.1 729 914.3 731.2C913.5 733.3 913.4 733.6 912.4 735.7C911.4 737.8 911.4 738.2 910.1 740.1C908.8 742.1 907.6 741.3 906.9 743.9C906.3 746.6 908.5 749.1 907.4 751.4C906.4 753.7 904.6 752.6 902.3 753.8C900 755 899.7 755 897.7 756.5C895.7 758 895.8 758.7 893.8 760.2C891.8 761.8 891.4 762 889.2 763.1C886.9 764.1 886.3 763.6 884 764.7C881.7 765.9 881.6 767.4 879.2 768.1C876.7 768.8 876.1 768.4 873.5 767.9C870.9 767.3 870.5 766.4 868 765.7C865.5 765 865.2 765.5 862.8 764.9C860.4 764.3 860 764.2 857.8 763.2C855.6 762.2 855.9 760.3 853.3 760.5C850.7 760.6 848.6 764.9 846.5 763.9C844.4 762.9 846 758.4 844.4 756.2C842.7 754 841.5 755.8 839.5 754.6C837.5 753.5 838.3 752.1 835.7 751.4C833 750.7 830.7 752.7 828.3 751.7C825.9 750.7 826.3 749.5 825.3 747C824.3 744.6 825.2 743.6 824.1 741.3C823.1 739 822 739.3 820.8 737.2C819.6 735.1 819.7 734.6 819 732.3C818.3 730 818.2 729.6 817.9 727.2C817.5 724.8 817.3 724.5 817.5 722C817.6 719.6 818.8 719.2 818.5 716.9C818.1 714.5 816.8 714.4 816.1 712C815.3 709.6 814.1 709 815.2 706.8C816.4 704.6 819.6 704.7 821 702.7C822.4 700.6 821 700.1 821.3 697.8C821.6 695.6 821.7 695.2 822.3 693.1C823 690.9 823.1 690.5 824.1 688.6C825.2 686.6 826.5 687.1 827 684.6C827.4 682 825 679.7 826.1 677.6C827.2 675.5 829.4 676.8 831.7 675.7C833.9 674.6 834 674.3 835.9 672.9C837.8 671.5 837.8 671 839.7 669.6C841.5 668.2 841.9 668 843.9 666.9C845.9 665.8 846.5 666.4 848.4 664.8C850.4 663.2 850.2 661.7 852.3 660.1C854.3 658.6 854.8 658.4 857.3 658.1C859.7 657.8 860.3 659 862.8 658.7C865.3 658.5 865.5 657.6 868 657C870.5 656.5 870.9 656.4 873.5 656.2C876.1 656 876.6 655.7 879.1 656.2C881.6 656.7 881.4 658.5 884.3 658.4C887.1 658.2 889 654.6 891.4 655.5C893.8 656.5 892.7 660.1 894.5 662.5C896.2 664.9 897.2 663.8 898.9 665.8C900.6 667.7 900 669 901.9 670.7C903.7 672.4 905.1 671.4 906.8 673.2C908.5 674.9 908.8 675.4 909.3 678.1C909.7 680.9 908.3 682.3 908.7 684.8C909.1 687.4 910.1 687 911 689C911.9 691.1 912 691.4 912.5 693.5C913.1 695.7 912.3 696.2 913.4 698.2C914.4 700.3 915.4 700.2 917.1 702.2C918.8 704.2 920.9 704.5 920.6 706.8C920.3 709.1 916.7 709.7 915.9 712Z" fill="#f5aaae" stroke="#c4576a" stroke-width="1.5" stroke-linejoin="round"/><circle cx="885.5" cy="713.3" r="1.4" fill="#d86f7c"/><circle cx="901.7" cy="701" r="1.7" fill="#d86f7c"/><circle cx="865.6" cy="672.8" r="1.1" fill="#d86f7c"/><circle cx="872.9" cy="752.9" r="1.7" fill="#d86f7c"/><circle cx="827.2" cy="737" r="1.1" fill="#d86f7c"/><circle cx="899.1" cy="740.5" r="1.4" fill="#d86f7c"/><circle cx="839" cy="735.5" r="1.1" fill="#d86f7c"/><circle cx="873.8" cy="734.5" r="1.7" fill="#d86f7c"/><circle cx="888.3" cy="718.8" r="1.1" fill="#d86f7c"/><circle cx="880.6" cy="754.1" r="1.4" fill="#d86f7c"/><circle cx="908.5" cy="719.8" r="1.4" fill="#d86f7c"/><circle cx="879.8" cy="672.6" r="1.1" fill="#d86f7c"/><circle cx="846.9" cy="750.1" r="1.4" fill="#d86f7c"/><circle cx="895.5" cy="719.3" r="1.4" fill="#d86f7c"/><circle cx="837.7" cy="697.3" r="1.7" fill="#d86f7c"/><circle cx="892.1" cy="671.6" r="1.7" fill="#d86f7c"/><circle cx="910.7" cy="710.1" r="1.4" fill="#d86f7c"/><path d="M879.9 711C879.8 716.2 880.6 713.8 879.4 718.7C878.2 723.7 879 721.5 876.2 725.9C873.4 730.2 875.1 728.3 871 731.9C867 735.4 869.2 734.9 864.1 736.4C859.1 737.9 860.9 738 855.9 736.4C850.9 734.8 853.2 735.1 849.1 731.7C844.9 728.2 846.9 730.2 843.5 726.1C840.1 722 840.7 724.4 838.9 719.4C837 714.4 837.4 716.4 838 711C838.6 705.6 838.5 708.2 840.5 703.3C842.5 698.4 841.1 700.6 844 696.3C846.9 692.1 845.1 693.5 849.2 690.6C853.3 687.7 851.3 689 856.2 687.6C861.1 686.2 858.6 686.3 864 686.4C869.3 686.4 867.6 685.1 872.3 687.8C877 690.5 875.7 689.3 878.1 694.4C880.6 699.5 879.1 697.7 879.6 703.2C880.2 708.7 880 705.8 879.9 711Z" fill="#d97c83" stroke="#c4576a" stroke-opacity="0.45" stroke-width="1"/><path d="M886.7 853C887.4 855.1 887.3 855.6 886.8 857.7C886.4 859.8 885.2 860 884.6 862.1C884 864.2 884.9 864.7 884.5 866.8C884 868.9 882.5 868.6 882.5 871C882.5 873.5 885.6 875.5 884.5 877.3C883.5 879.2 880.1 877.8 878 879C875.8 880.3 876.8 881.3 875.4 882.8C873.9 884.4 873.4 884.4 871.6 885.6C869.8 886.8 869.5 886.9 867.6 887.8C865.7 888.7 865.2 888.6 863.3 889.4C861.5 890.3 861.1 890.1 859.5 891.4C857.9 892.8 858.4 894.7 856.5 895.2C854.6 895.7 853.5 893.8 851.3 893.7C849.2 893.6 849.2 894.2 847.3 894.7C845.4 895.1 845.2 895.4 843.2 895.8C841.3 896.3 841 896.5 839 896.6C837 896.7 836.9 895.8 834.7 896.3C832.6 896.8 832.2 898.2 829.9 898.8C827.6 899.4 826.9 900 825.1 898.9C823.2 897.9 823.7 895.5 821.9 894.2C820.2 892.9 819.4 894 817.5 893.3C815.5 892.6 815.4 892.1 813.5 891.2C811.5 890.3 811.5 890 809.1 889.4C806.7 888.8 804.8 890.2 803.3 888.7C801.8 887.2 803.7 884.9 802.6 882.9C801.5 880.8 800.3 881.5 798.6 880C796.9 878.5 797.1 878 795.5 876.3C793.9 874.5 793.4 874.4 791.8 872.5C790.2 870.7 789.2 870.5 788.7 868.3C788.2 866 789.6 865.2 789.7 862.8C789.8 860.4 789.1 860.2 789.1 857.9C789.1 855.6 789.2 855.2 789.7 853C790.2 850.8 790.3 850.4 791.2 848.3C792 846.2 792.1 845.9 793.2 843.9C794.3 841.9 794.9 841.8 795.9 839.9C796.8 838 796.4 837.6 797.2 835.7C798 833.8 797.7 833.2 799.3 831.8C800.8 830.3 802.3 830.9 803.9 829.6C805.6 828.3 805 827.6 806.3 826.1C807.5 824.7 808.8 825.7 809.4 823.4C810.1 821.2 807.8 818 809.1 816.6C810.5 815.2 813.1 818 815.2 817.4C817.3 816.8 816.5 815.2 818.1 814C819.7 812.7 820.3 813.4 822 812C823.7 810.6 823.4 808.7 825.3 807.8C827.2 806.9 827.9 808.1 830.1 808.1C832.2 808.2 832.5 808.1 834.6 808.1C836.7 808 836.9 807.8 839 807.8C841.1 807.8 841.4 807.8 843.4 807.9C845.5 808 845.8 808 847.9 808.3C850 808.6 850.1 808.9 852.3 809.1C854.5 809.2 854.9 808.8 857.3 808.9C859.6 809 860.3 808.5 862.2 809.6C864.1 810.6 863.6 812.1 865.3 813.6C867 815 867.7 814.6 869.5 815.8C871.4 817 871.6 817.3 873.1 818.9C874.7 820.4 874.9 820.7 876.2 822.5C877.4 824.3 877.2 824.8 878.5 826.6C879.7 828.4 880.5 828.4 881.5 830.3C882.6 832.2 882.6 832.6 882.9 834.8C883.2 837 882.6 837.5 882.8 839.7C883 841.9 883.5 842 883.7 844.1C883.9 846.2 883.2 846.5 883.8 848.6C884.5 850.7 886 850.9 886.7 853Z" fill="#f5aaae" stroke="#c4576a" stroke-width="1.5" stroke-linejoin="round"/><circle cx="825.8" cy="891.1" r="1.4" fill="#d86f7c"/><circle cx="872.2" cy="865.4" r="1.4" fill="#d86f7c"/><circle cx="875.3" cy="855.2" r="1.1" fill="#d86f7c"/><circle cx="860.3" cy="817.5" r="1.1" fill="#d86f7c"/><circle cx="869.3" cy="859.8" r="1.7" fill="#d86f7c"/><circle cx="824.1" cy="891.1" r="1.1" fill="#d86f7c"/><circle cx="801.6" cy="844.8" r="1.4" fill="#d86f7c"/><circle cx="809.5" cy="839.5" r="1.1" fill="#d86f7c"/><circle cx="804.8" cy="877.7" r="1.4" fill="#d86f7c"/><circle cx="826.5" cy="817.2" r="1.1" fill="#d86f7c"/><circle cx="850" cy="826.5" r="1.7" fill="#d86f7c"/><path d="M861.2 856C861.6 861.3 861.9 859 860.3 864.1C858.7 869.2 860.1 867.7 856.3 871.4C852.5 875 854 873.6 849 875.1C844.1 876.5 846.3 875.3 841.5 875.7C836.6 876.1 839.3 876.5 834.4 876.3C829.6 876.1 831.4 877.2 827 875.1C822.6 873 824.3 874 821.2 870.1C818.1 866.2 819.6 868.1 817.7 863.4C815.7 858.7 815.8 861.1 815.4 856C815 850.9 814.7 853 816.5 848.2C818.3 843.4 817.5 845.6 820.8 841.6C824.2 837.6 822.2 839 826.6 836.2C831 833.5 829 833.6 834 833.3C839 833 837.1 833.2 841.7 835.2C846.2 837.2 843.7 836.7 847.7 839.2C851.7 841.8 849.9 839.8 853.7 842.9C857.5 845.9 856.6 844 859.1 848.3C861.6 852.7 860.7 850.7 861.2 856Z" fill="#d97c83" stroke="#c4576a" stroke-opacity="0.45" stroke-width="1"/><path d="M884.4 632C884.9 634.8 885.6 635.2 886.3 638.1C887.1 641.1 888.5 642.1 887.5 644.7C886.6 647.3 883.9 647 882.2 649.3C880.6 651.6 880 651.3 880.6 654.7C881.1 658.2 885.5 661.7 884.6 664.1C883.6 666.5 878.8 663.5 876.4 665.1C874.1 666.7 875.8 668.4 874.6 670.8C873.5 673.1 873.1 673.3 871.6 675.3C870 677.2 869.8 677.6 868 679.1C866.2 680.6 865.3 679.5 863.8 681.7C862.3 683.9 863.3 687.3 861.5 688.6C859.6 690 858.3 687.9 855.9 687.6C853.4 687.3 853.2 687.2 851 687.3C848.9 687.4 848.7 687.8 846.6 687.9C844.6 688 844.3 687.8 842.3 687.6C840.2 687.5 840 687.4 838 687.1C836 686.8 835.7 686.9 833.8 686.4C831.9 685.9 831.9 684.6 829.8 684.9C827.7 685.2 826.9 687.7 824.9 687.8C822.8 687.8 822.7 686.4 821 685C819.2 683.6 819.1 683 817.4 681.8C815.6 680.5 815.2 680.7 813.3 679.6C811.4 678.6 811.7 677.7 809.2 677.2C806.7 676.8 804.3 679.2 802.7 677.6C801 675.9 802.3 673.4 802 670.1C801.6 666.9 801.9 666.3 801.2 663.7C800.5 661.1 799.8 661.3 798.9 658.9C798.1 656.6 798.2 656.1 797.6 653.6C797.1 651.1 796.9 650.7 796.6 648.2C796.3 645.6 797.1 645.1 796.3 642.7C795.5 640.2 793.9 640.2 793.2 637.7C792.6 635.2 793.2 634.6 793.4 632C793.7 629.4 794.3 629.1 794.4 626.5C794.6 623.8 794 623.4 794 620.7C794 618 794.1 617.6 794.3 614.9C794.6 612.2 794.6 611.8 795.2 609.2C795.9 606.6 796.4 606.5 797.1 603.8C797.8 601.1 797.5 600.5 798.1 597.6C798.6 594.7 797.8 593.1 799.5 591.3C801.2 589.5 803.3 591.2 805.3 589.9C807.4 588.5 806.8 587.3 808.3 585.4C809.9 583.5 810.2 583.4 812 581.9C813.8 580.4 814.3 580.9 816 579.1C817.8 577.3 817.6 575.7 819.4 574.1C821.2 572.5 821.7 572.6 823.9 572.2C826.1 571.8 826.6 572.7 828.8 572.6C831 572.4 831.2 571.7 833.4 571.5C835.5 571.3 835.8 572 838 571.8C840.2 571.7 840.5 570.6 842.7 570.9C844.8 571.2 845.2 571.6 847.1 573.1C849 574.7 849.1 575.7 850.8 577.5C852.6 579.2 852.9 579.1 854.5 580.7C856.1 582.3 856.3 582.6 857.8 584.4C859.2 586.1 859.5 586.2 860.7 588.2C861.9 590.1 861 591.9 863 592.8C864.9 593.7 867.4 590.7 869 592C870.6 593.3 869.2 595.8 869.9 598.3C870.6 600.8 870.7 600.9 871.9 602.8C873.2 604.7 873.7 604.6 875.2 606.4C876.6 608.2 876.8 608.5 878.1 610.6C879.3 612.7 879.6 613 880.6 615.3C881.7 617.6 881.9 618 882.7 620.5C883.6 623.1 883.8 623.5 884.2 626.1C884.6 628.8 883.9 629.2 884.4 632Z" fill="#fbc1c3" stroke="#c85f6a" stroke-width="1.5" stroke-linejoin="round"/><circle cx="829.6" cy="607.5" r="1.7" fill="#e2808b"/><circle cx="821.6" cy="604.4" r="1.4" fill="#e2808b"/><circle cx="833.7" cy="603.4" r="1.7" fill="#e2808b"/><circle cx="863.3" cy="646.8" r="1.4" fill="#e2808b"/><circle cx="822.1" cy="594.6" r="1.7" fill="#e2808b"/><circle cx="857.7" cy="652.5" r="1.1" fill="#e2808b"/><circle cx="841.1" cy="609.1" r="1.1" fill="#e2808b"/><circle cx="825.1" cy="599.6" r="1.1" fill="#e2808b"/><circle cx="840.4" cy="667.5" r="1.1" fill="#e2808b"/><circle cx="824.2" cy="671" r="1.1" fill="#e2808b"/><circle cx="854.9" cy="610.3" r="1.1" fill="#e2808b"/><path d="M855.5 638C854.6 644.5 855.7 641.4 853.7 647.2C851.6 653.1 853 650.6 849.4 655.5C845.8 660.3 847.7 657.9 842.8 661.8C837.9 665.7 840.8 664.9 834.8 667.2C828.8 669.6 831.2 670 824.9 668.9C818.7 667.8 821.2 668.1 816.1 663.9C810.9 659.8 813.6 661.6 809.6 656.4C805.6 651.1 806.6 654.2 804.1 648.1C801.6 642 801.6 644.6 802 638C802.4 631.4 802.4 634.2 805.3 628.3C808.1 622.5 806.6 625.2 810.5 620.4C814.4 615.6 812 617.1 817 613.9C822 610.7 819.7 612 825.5 610.7C831.4 609.4 828.2 609.9 834.6 610C840.9 610.1 838.3 608.6 844.6 610.9C850.8 613.2 849.4 611.4 853.3 617C857.2 622.6 855.6 620.7 856.3 627.7C857.1 634.7 856.3 631.5 855.5 638Z" fill="#db8b90" stroke="#c85f6a" stroke-opacity="0.45" stroke-width="1"/><path d="M831.8 783C831.6 786.1 832.3 786.5 832 789.6C831.7 792.6 831.6 793.1 830.6 796C829.7 798.9 828.9 799.2 827.9 802.1C826.8 804.9 826.9 805.4 826.2 808.3C825.4 811.3 826.6 812.6 824.5 814.8C822.3 817 819.5 816 816.9 817.9C814.2 819.8 815.2 820.8 813.3 823C811.5 825.2 811.1 825.5 808.9 827.5C806.8 829.5 806.5 829.8 804.1 831.6C801.8 833.4 801.6 833.9 799 835.2C796.4 836.5 795.2 835 792.9 837.2C790.7 839.4 791.9 843.1 789.3 844.6C786.8 846.1 785.3 844.1 782 843.5C778.6 843 778.2 842.8 775.2 842.3C772.1 841.8 771.8 840 768.9 841.4C766.1 842.9 765.8 848.4 763 848.7C760.2 848.9 759.7 844.6 756.9 842.6C754.2 840.6 753.9 841 751.2 840.3C748.5 839.6 748 840.3 745.3 839.5C742.6 838.8 743.1 837.1 739.8 837.3C736.6 837.4 734.3 840.9 731.4 840.3C728.5 839.8 729.4 836.9 727.3 834.7C725.3 832.5 724.8 832.6 722.5 830.8C720.2 829.1 719.3 829.3 717.5 827.1C715.6 824.9 717.9 822.8 714.5 821.5C711.2 820.3 704.4 824.2 703 821.8C701.6 819.4 708.1 814.8 708.6 811.2C709 807.6 706.2 808.7 705.1 806.2C703.9 803.7 704.1 803.2 703.7 800.4C703.2 797.7 704.2 797.2 703.3 794.5C702.4 791.8 700.7 791.7 699.8 789C698.9 786.3 699.1 785.8 699.4 783C699.7 780.2 700.9 779.9 701.1 777.1C701.3 774.3 700.4 773.8 700.3 770.9C700.1 768 700.2 767.6 700.4 764.6C700.6 761.6 700.4 761 701.3 758.2C702.2 755.4 704.2 756.1 704.2 752.5C704.2 749 699.8 745.7 701.4 743.1C702.9 740.5 707.8 743.2 710.8 741.5C713.9 739.9 712.4 738.3 714.5 736C716.6 733.8 717.2 733.7 719.8 732C722.4 730.3 722.7 729.9 725.6 728.8C728.5 727.7 730 729.7 732.3 727.4C734.6 725 732.7 719.5 735.5 718.8C738.4 718 741.1 723.3 744.6 724.1C748 724.9 747.7 722.9 750.5 722.2C753.3 721.4 753.8 722.5 756.7 720.9C759.6 719.3 760.1 714.6 763 715.3C765.9 716 766.2 721.8 769 723.8C771.9 725.8 772.4 723.3 775.1 723.8C777.9 724.4 778.3 724.7 780.8 726.1C783.3 727.5 783 729 785.8 729.8C788.5 730.5 790 728.3 792.6 729.3C795.2 730.2 795.4 731.3 796.9 733.8C798.5 736.4 797.7 737.9 799.3 740.2C800.9 742.4 801.8 741.8 803.9 743.4C806 745 806.3 745.2 808.2 747.1C810 748.9 809.1 749.9 811.9 751.3C814.7 752.8 818.3 751.3 820.4 753.3C822.5 755.3 819.8 757.1 820.9 759.8C822 762.4 822.8 762.4 825.1 764.7C827.4 767.1 828.8 767.3 830.6 770C832.4 772.7 832.4 773.3 832.7 776.3C833 779.4 832 779.9 831.8 783Z" fill="#fbc1c3" stroke="#c85f6a" stroke-width="1.5" stroke-linejoin="round"/><circle cx="720.3" cy="765.3" r="1.4" fill="#e2808b"/><circle cx="741.4" cy="739.7" r="1.1" fill="#e2808b"/><circle cx="748.4" cy="834.8" r="1.1" fill="#e2808b"/><circle cx="733.7" cy="824.7" r="1.1" fill="#e2808b"/><circle cx="790.7" cy="752.3" r="1.4" fill="#e2808b"/><circle cx="723.3" cy="801.5" r="1.7" fill="#e2808b"/><circle cx="811.4" cy="783.2" r="1.1" fill="#e2808b"/><circle cx="731.2" cy="738.4" r="1.7" fill="#e2808b"/><circle cx="713.6" cy="789" r="1.4" fill="#e2808b"/><circle cx="780.3" cy="730.2" r="1.4" fill="#e2808b"/><circle cx="736.7" cy="805.5" r="1.1" fill="#e2808b"/><circle cx="745.9" cy="779.7" r="1.4" fill="#e2808b"/><circle cx="808.5" cy="762.7" r="1.1" fill="#e2808b"/><circle cx="775.8" cy="735.8" r="1.1" fill="#e2808b"/><circle cx="718.6" cy="816.4" r="1.4" fill="#e2808b"/><circle cx="758" cy="745.8" r="1.7" fill="#e2808b"/><path d="M804.5 793C803.8 799.6 805 796.2 803.6 802.6C802.1 808.9 803.8 806.7 800.2 812.1C796.7 817.4 798.3 815.2 792.8 818.6C787.4 822.1 790.1 820.7 783.8 822.4C777.5 824.1 780.4 824.5 774 823.7C767.5 822.8 770 823.6 764.6 819.8C759.1 816 761.7 817.8 757.5 812.4C753.2 807 754.3 810.1 751.7 803.7C749 797.2 748.9 799.9 749.5 793C750.1 786.1 750.1 788.8 753.6 783.1C757.1 777.4 755.8 780.6 759.9 775.8C764 771 761.2 772.9 766 768.8C770.7 764.7 768.1 765.6 774.1 763.5C780.2 761.3 777.3 762 784 762.4C790.7 762.9 788 761.7 794.2 764.8C800.4 767.9 798.9 765.8 802.6 771.7C806.4 777.7 804.9 775.6 805.5 782.7C806.1 789.7 805.1 786.4 804.5 793Z" fill="#db8b90" stroke="#c85f6a" stroke-opacity="0.45" stroke-width="1"/><circle cx="752" cy="734.5" r="8.7" fill="#dcaaae" stroke="#d3a0a5" stroke-width="1"/><ellipse cx="753.7" cy="731.5" rx="1.4" ry="1.9" fill="#efcfd2"/><circle cx="789.2" cy="660.8" r="9" fill="#dd858d" stroke="#cf6f79" stroke-width="1"/><ellipse cx="791" cy="657.6" rx="1.4" ry="2" fill="#efb4ba"/><circle cx="797.3" cy="757.4" r="9" fill="#dd858d" stroke="#cf6f79" stroke-width="1"/><ellipse cx="799.1" cy="754.2" rx="1.4" ry="2" fill="#efb4ba"/><circle cx="684.7" cy="652.5" r="7" fill="#9f2630" stroke="#7a1a22" stroke-width="1.2"/><circle cx="684.9" cy="651.7" r="5.4" fill="#b83440"/><ellipse cx="686.5" cy="649.7" rx="1.1" ry="1.4" fill="#d97d86"/><circle cx="610.6" cy="735" r="7" fill="#9f2630" stroke="#7a1a22" stroke-width="1.2"/><circle cx="610.8" cy="734.2" r="5.4" fill="#b83440"/><ellipse cx="612.4" cy="732.2" rx="1.1" ry="1.4" fill="#d97d86"/><circle cx="658.8" cy="722.3" r="8" fill="#9f2630" stroke="#7a1a22" stroke-width="1.2"/><circle cx="659" cy="721.5" r="6.4" fill="#b83440"/><ellipse cx="660.8" cy="719.1" rx="1.3" ry="1.6" fill="#d97d86"/><circle cx="692.4" cy="803.6" r="8.7" fill="#9f2630" stroke="#7a1a22" stroke-width="1.2"/><circle cx="692.6" cy="802.8" r="7.1" fill="#b83440"/><ellipse cx="694.6" cy="800.1" rx="1.4" ry="1.7" fill="#d97d86"/><circle cx="859.1" cy="768.2" r="8.3" fill="#9f2630" stroke="#7a1a22" stroke-width="1.2"/><circle cx="859.3" cy="767.4" r="6.7" fill="#b83440"/><ellipse cx="861.2" cy="764.9" rx="1.3" ry="1.7" fill="#d97d86"/><circle cx="780.2" cy="851.2" r="9.4" fill="#9f2630" stroke="#7a1a22" stroke-width="1.2"/><circle cx="780.4" cy="850.4" r="7.8" fill="#b83440"/><ellipse cx="782.6" cy="847.4" rx="1.5" ry="1.9" fill="#d97d86"/><circle cx="821.7" cy="716.7" r="23.4" fill="#e8555f" stroke="#6e151b" stroke-width="1.6"/><circle cx="822" cy="715.1" r="21.2" fill="#ff7a80"/><ellipse cx="828.3" cy="706.9" rx="3" ry="4.7" fill="#ffb3ba"/><circle cx="747.4" cy="768.8" r="23.4" fill="#e8555f" stroke="#6e151b" stroke-width="1.6"/><circle cx="747.7" cy="767.2" r="21.2" fill="#ff7a80"/><ellipse cx="754" cy="759" rx="3" ry="4.7" fill="#ffb3ba"/><circle cx="760.7" cy="801.6" r="10" fill="#9f2630" stroke="#7a1a22" stroke-width="1.2"/><circle cx="760.9" cy="800.8" r="8.4" fill="#b83440"/><ellipse cx="763.2" cy="797.6" rx="1.6" ry="2" fill="#d97d86"/></g><g fill="none" stroke="#dedfe1" stroke-width="32.5" stroke-linecap="round"><path d="M669.6 561.4A82 82 0 0 1 587.6 658.5"/><path d="M726.1 550.8A139.5 139.5 0 0 1 586.6 716"/><path d="M780.2 540.7A194.5 194.5 0 0 1 585.6 771"/></g><circle cx="589.6" cy="578.3" r="39.2" fill="#dedfe1"/><text x="589.6" y="590" font-size="40" text-anchor="middle" font-family="Liberation Sans, sans-serif" font-weight="bold" fill="#000">US</text>
<g font-family="Liberation Sans, sans-serif" font-weight="bold"><path id="tp1" d="M128.44 765.08A636.6 636.6 0 0 1 589.86 144.42" fill="none"/><text font-size="68" fill="#000"><textPath href="#tp1" textLength="791.18" lengthAdjust="spacingAndGlyphs">Biohybrid sonosensitizers</textPath></text>
<path id="tp2" d="M850.77 130.09A632 632 0 0 1 1246.78 1104.04" fill="none"/><text font-size="68" fill="#000"><textPath href="#tp2" textLength="1201.67" lengthAdjust="spacingAndGlyphs">Inorganic nanomaterials sonosensitizers</textPath></text>
<path id="tp3" d="M150.56 1033.48C151.74 1036.12 155.25 1044.07 157.67 1049.34C160.08 1054.61 162.53 1059.87 165.05 1065.11C167.57 1070.34 170.13 1075.56 172.77 1080.74C175.41 1085.93 178.11 1091.09 180.89 1096.21C183.67 1101.32 186.51 1106.42 189.45 1111.45C192.39 1116.49 195.41 1121.49 198.52 1126.43C201.62 1131.37 204.83 1136.25 208.09 1141.1C211.35 1145.94 214.68 1150.75 218.08 1155.5C221.48 1160.26 224.95 1164.97 228.48 1169.63C232.02 1174.3 235.62 1178.91 239.29 1183.48C242.96 1188.04 246.7 1192.56 250.5 1197.02C254.3 1201.48 258.16 1205.89 262.09 1210.24C266.02 1214.59 270.02 1218.89 274.07 1223.13C278.12 1227.37 282.24 1231.56 286.41 1235.69C290.59 1239.82 294.82 1243.89 299.11 1247.91C303.4 1251.92 307.74 1255.88 312.15 1259.77C316.55 1263.66 321.01 1267.49 325.53 1271.25C330.04 1275.02 334.62 1278.71 339.24 1282.35C343.86 1285.99 348.52 1289.57 353.24 1293.09C357.95 1296.61 362.72 1300.07 367.53 1303.46C372.34 1306.85 377.19 1310.18 382.1 1313.44C387 1316.7 391.95 1319.89 396.95 1323C401.94 1326.12 406.99 1329.17 412.07 1332.13C417.16 1335.1 422.29 1337.99 427.47 1340.81C432.65 1343.62 437.87 1346.35 443.13 1349C448.39 1351.65 453.69 1354.22 459.03 1356.71C464.36 1359.2 469.74 1361.61 475.14 1363.94C480.55 1366.27 485.99 1368.53 491.46 1370.7C496.93 1372.88 502.43 1374.98 507.95 1377C513.48 1379.03 519.03 1380.97 524.61 1382.85C530.19 1384.72 535.79 1386.52 541.41 1388.25C547.03 1389.97 552.67 1391.64 558.33 1393.2C564 1394.76 569.7 1396.23 575.41 1397.6C581.12 1398.98 586.85 1400.26 592.6 1401.47C598.35 1402.67 604.11 1403.79 609.88 1404.83C615.66 1405.88 621.45 1406.84 627.24 1407.74C633.03 1408.64 638.84 1409.47 644.64 1410.24C650.45 1411.01 656.27 1411.71 662.08 1412.37C667.9 1413.02 673.73 1413.62 679.55 1414.17C685.38 1414.73 691.21 1415.25 697.04 1415.69C702.87 1416.12 708.71 1416.49 714.56 1416.78C720.4 1417.07 726.25 1417.29 732.1 1417.42C737.95 1417.56 743.8 1417.62 749.65 1417.61C755.5 1417.59 761.35 1417.5 767.2 1417.34C773.04 1417.17 778.89 1416.92 784.73 1416.61C790.57 1416.29 796.41 1415.89 802.24 1415.42C808.07 1414.95 813.9 1414.4 819.71 1413.78C825.53 1413.15 831.34 1412.45 837.14 1411.68C842.93 1410.91 848.72 1410.06 854.5 1409.13C860.27 1408.21 866.04 1407.2 871.79 1406.13C877.54 1405.05 883.27 1403.9 888.99 1402.68C894.71 1401.45 900.42 1400.16 906.1 1398.78C911.79 1397.41 917.46 1395.96 923.11 1394.44C928.75 1392.92 934.38 1391.32 939.99 1389.66C945.59 1387.99 951.18 1386.25 956.74 1384.43C962.3 1382.62 967.84 1380.73 973.35 1378.77C978.86 1376.81 984.35 1374.78 989.81 1372.67C995.26 1370.57 1000.69 1368.4 1006.1 1366.15C1011.5 1363.91 1016.87 1361.59 1022.21 1359.2C1027.55 1356.82 1032.86 1354.36 1038.14 1351.84C1043.41 1349.31 1048.66 1346.72 1053.86 1344.06C1059.07 1341.39 1064.25 1338.66 1069.38 1335.87C1074.52 1333.07 1079.62 1330.2 1084.68 1327.27C1089.75 1324.34 1094.77 1321.34 1099.75 1318.28C1104.74 1315.22 1109.68 1312.09 1114.58 1308.9C1119.48 1305.71 1124.34 1302.45 1129.16 1299.13C1133.98 1295.81 1138.75 1292.43 1143.48 1288.99C1148.21 1285.54 1152.89 1282.03 1157.53 1278.47C1162.16 1274.9 1166.75 1271.27 1171.29 1267.59C1175.83 1263.9 1180.33 1260.15 1184.77 1256.35C1189.21 1252.55 1195.75 1246.69 1197.95 1244.76" fill="none"/><text font-size="68" fill="#000"><textPath href="#tp3" textLength="1224.24" lengthAdjust="spacingAndGlyphs">Organic small molecule sonosensitizers</textPath></text>
<path id="tp4" d="M841.87 320.82A616 616 0 0 1 1117.48 500.03" fill="none"/><text font-size="52.5" fill="#000"><textPath href="#tp4" textLength="292.78" lengthAdjust="spacingAndGlyphs">Metal-based</textPath></text>
<path id="tp5" d="M772.64 369.52A554 554 0 0 1 1110.53 597.72" fill="none"/><text font-size="52.5" fill="#000"><textPath href="#tp5" textLength="377.55" lengthAdjust="spacingAndGlyphs">sonosensitizers</textPath></text>
<path id="tp6" d="M1186.62 654.99A520 520 0 0 1 1137.43 987.92" fill="none"/><text font-size="55" fill="#000"><textPath href="#tp6" textLength="302.72" lengthAdjust="spacingAndGlyphs">Non-metallic</textPath></text>
<path id="tp7" d="M1109.77 611.35A456 456 0 0 1 1050.18 1012.03" fill="none"/><text font-size="55" fill="#000"><textPath href="#tp7" textLength="379.75" lengthAdjust="spacingAndGlyphs">sonosensitizers</textPath></text>
<path id="tp8" d="M372.47 880.29A496 496 0 0 0 674.75 1147.52" fill="none"/><text font-size="52.5" fill="#000"><textPath href="#tp8" textLength="375.51" lengthAdjust="spacingAndGlyphs">Porphyrins and</textPath></text>
<path id="tp9" d="M319.83 917.64A558 558 0 0 0 633.54 1200.65" fill="none"/><text font-size="52.5" fill="#000"><textPath href="#tp9" textLength="393.31" lengthAdjust="spacingAndGlyphs">their derivatives</textPath></text>
<path id="tp10" d="M709.38 1144.26A590 590 0 0 0 1060.16 987.51" fill="none"/><text font-size="52" fill="#000"><textPath href="#tp10" textLength="351.34" lengthAdjust="spacingAndGlyphs">Non-porphyrin</textPath></text>
<path id="tp11" d="M769.4 1200.18A652 652 0 0 0 1046.11 1078.15" fill="none"/><text font-size="52" fill="#000"><textPath href="#tp11" textLength="265.2" lengthAdjust="spacingAndGlyphs">derivatives</textPath></text></g>
</svg>
</body></html>
